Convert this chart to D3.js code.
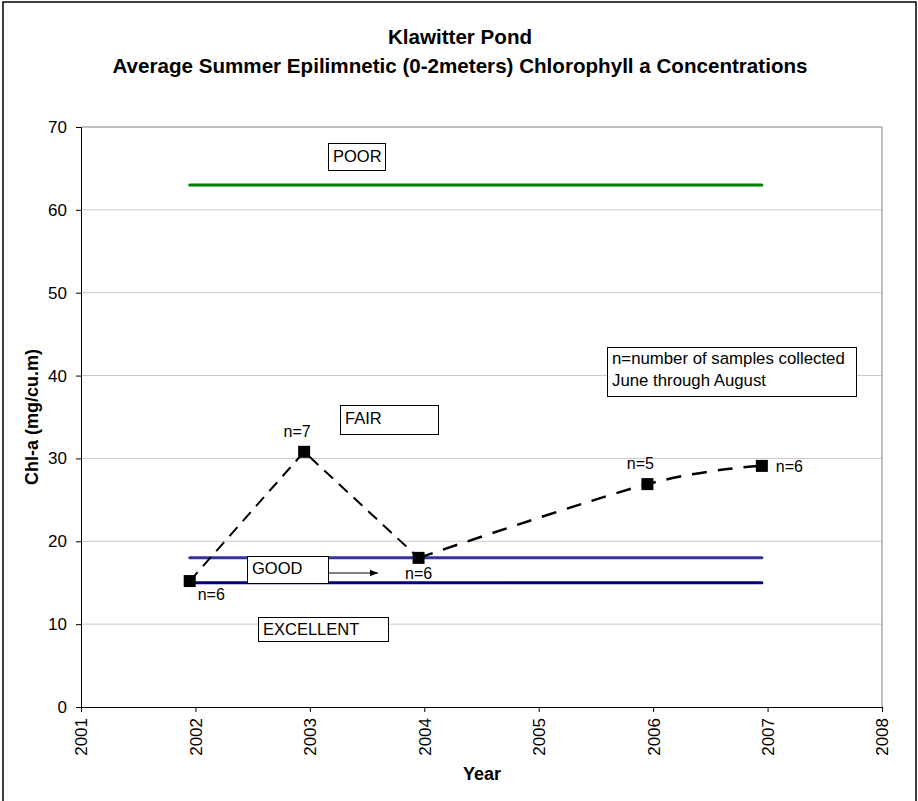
<!DOCTYPE html>
<html><head><meta charset="utf-8">
<script src="https://cdn.jsdelivr.net/npm/d3@7"></script>
<style>body{margin:0;background:#fff;} svg{display:block;font-family:"Liberation Sans",Arial,sans-serif;}</style>
</head><body><svg id="c" width="918" height="801"></svg>
<script>
const titleLines = ["Klawitter Pond", "Average Summer Epilimnetic (0-2meters) Chlorophyll a Concentrations"];
const yearTicks = [2001, 2002, 2003, 2004, 2005, 2006, 2007, 2008];
const yTicks = [0, 10, 20, 30, 40, 50, 60, 70];
const seriesA = [[2001.95, 15.2], [2002.95, 30.8], [2003.95, 18.0]];
const seriesB = [[2003.95, 18.0], [2005.95, 26.9], [2006.95, 29.1]];
const sampleLabels = [
  {x: 2001.95, y: 15.2, t: "n=6", pos: "br"},
  {x: 2002.95, y: 30.8, t: "n=7", pos: "t"},
  {x: 2003.95, y: 18.0, t: "n=6", pos: "b"},
  {x: 2005.95, y: 26.9, t: "n=5", pos: "t"},
  {x: 2006.95, y: 29.1, t: "n=6", pos: "r"}
];
const thresholds = [
  {name: "POOR", value: 63, color: "#008000"},
  {name: "GOOD", value: 18, color: "#333399"},
  {name: "EXCELLENT", value: 15, color: "#000080"}
];
const thresholdRange = [2001.95, 2006.95];

const svg = d3.select("#c");
const x = d3.scaleLinear().domain([2001, 2008]).range([81, 882]);
const y = d3.scaleLinear().domain([0, 70]).range([707, 127]);

// outer border
svg.append("rect").attr("x", 3).attr("y", 2).attr("width", 913).attr("height", 810)
  .attr("fill", "none").attr("stroke", "#000").attr("stroke-width", 1.5);

// titles
titleLines.forEach((t, i) => {
  svg.append("text").attr("x", 460).attr("y", 44 + i * 29).attr("text-anchor", "middle")
    .attr("font-size", 20.6).attr("font-weight", "bold").text(t);
});

// gridlines
svg.append("g").selectAll("line").data(yTicks.filter(d => d > 0)).join("line")
  .attr("x1", x(2001)).attr("x2", x(2008)).attr("y1", d => y(d)).attr("y2", d => y(d))
  .attr("stroke", d => d === 70 ? "#808080" : "#c8c8c8").attr("stroke-width", 1);
// right border of plot
svg.append("line").attr("x1", x(2008)).attr("x2", x(2008)).attr("y1", y(70)).attr("y2", y(0))
  .attr("stroke", "#808080");

// axes
const yAxis = svg.append("g").attr("transform", `translate(${x(2001)},0)`)
  .call(d3.axisLeft(y).tickValues(yTicks).tickSize(5).tickPadding(9));
yAxis.select(".domain").attr("stroke", "#000");
yAxis.selectAll("text").attr("font-size", 17).attr("font-family", "Liberation Sans, Arial");

const xAxis = svg.append("g").attr("transform", `translate(0,${y(0)})`)
  .call(d3.axisBottom(x).tickValues(yearTicks).tickFormat(d3.format("d")).tickSize(5));
xAxis.select(".domain").attr("stroke", "#000");
xAxis.selectAll("text").attr("font-size", 17).attr("font-family", "Liberation Sans, Arial")
  .attr("transform", "rotate(-90)").attr("text-anchor", "end").attr("dy", "0.35em")
  .attr("x", -11).attr("y", 0);

// axis titles
svg.append("text").attr("transform", `translate(38,417) rotate(-90)`).attr("text-anchor", "middle")
  .attr("font-size", 18).attr("font-weight", "bold").text("Chl-a (mg/cu.m)");
svg.append("text").attr("x", 482).attr("y", 780).attr("text-anchor", "middle")
  .attr("font-size", 18).attr("font-weight", "bold").text("Year");

// threshold lines
svg.append("g").selectAll("line").data(thresholds).join("line")
  .attr("x1", x(thresholdRange[0])).attr("x2", x(thresholdRange[1]))
  .attr("y1", d => y(d.value)).attr("y2", d => y(d.value))
  .attr("stroke", d => d.color).attr("stroke-width", 3).attr("stroke-linecap", "round");

// data lines
const lineStraight = d3.line().x(d => x(d[0])).y(d => y(d[1]));
const lineSmooth = d3.line().x(d => x(d[0])).y(d => y(d[1])).curve(d3.curveCatmullRom.alpha(0));
svg.append("path").attr("d", lineStraight(seriesA)).attr("fill", "none").attr("stroke", "#000")
  .attr("stroke-width", 2).attr("stroke-dasharray", "12,8");
svg.append("path").attr("d", lineSmooth(seriesB)).attr("fill", "none").attr("stroke", "#000")
  .attr("stroke-width", 2.5).attr("stroke-dasharray", "15,11");

// markers
const pts = seriesA.concat(seriesB.slice(1));
svg.append("g").selectAll("rect").data(pts).join("rect")
  .attr("x", d => x(d[0]) - 6).attr("y", d => y(d[1]) - 6).attr("width", 12).attr("height", 12)
  .attr("fill", "#000");

// sample labels
const off = {br: [8, 19, "start"], t: [-7, -15, "middle"], b: [0, 21, "middle"], r: [14, 6, "start"]};
svg.append("g").selectAll("text").data(sampleLabels).join("text")
  .attr("x", d => x(d.x) + off[d.pos][0]).attr("y", d => y(d.y) + off[d.pos][1])
  .attr("text-anchor", d => off[d.pos][2]).attr("font-size", 16).text(d => d.t);

// boxed labels
function box(x0, y0, w, h, lines, fs, base, lh) {
  svg.append("rect").attr("x", x0 + 0.5).attr("y", y0 + 0.5).attr("width", w).attr("height", h)
    .attr("fill", "#fff").attr("stroke", "#000").attr("stroke-width", 1);
  lines.forEach((t, i) => {
    svg.append("text").attr("x", x0 + 5).attr("y", y0 + base + i * lh).attr("font-size", fs).text(t);
  });
}
box(328, 143, 57, 27, ["POOR"], 16.5, 19, 0);
box(340, 405, 98, 29, ["FAIR"], 16.5, 19, 0);
box(247, 556, 81, 27, ["GOOD"], 16.5, 18, 0);
box(258, 617, 130, 24, ["EXCELLENT"], 16.5, 18, 0);
box(607, 347, 249, 49, ["n=number of samples collected", "June through August"], 16.8, 17, 22);

// arrow
svg.append("defs").append("marker").attr("id", "ah").attr("viewBox", "0 0 10 10")
  .attr("refX", 10).attr("refY", 5).attr("markerWidth", 8).attr("markerHeight", 8)
  .attr("markerUnits", "userSpaceOnUse").attr("orient", "auto")
  .append("path").attr("d", "M0,1L10,5L0,9Z").attr("fill", "#000");
svg.append("line").attr("x1", 328).attr("x2", 378).attr("y1", 573).attr("y2", 573)
  .attr("stroke", "#000").attr("stroke-width", 1).attr("marker-end", "url(#ah)");
</script></body></html>
